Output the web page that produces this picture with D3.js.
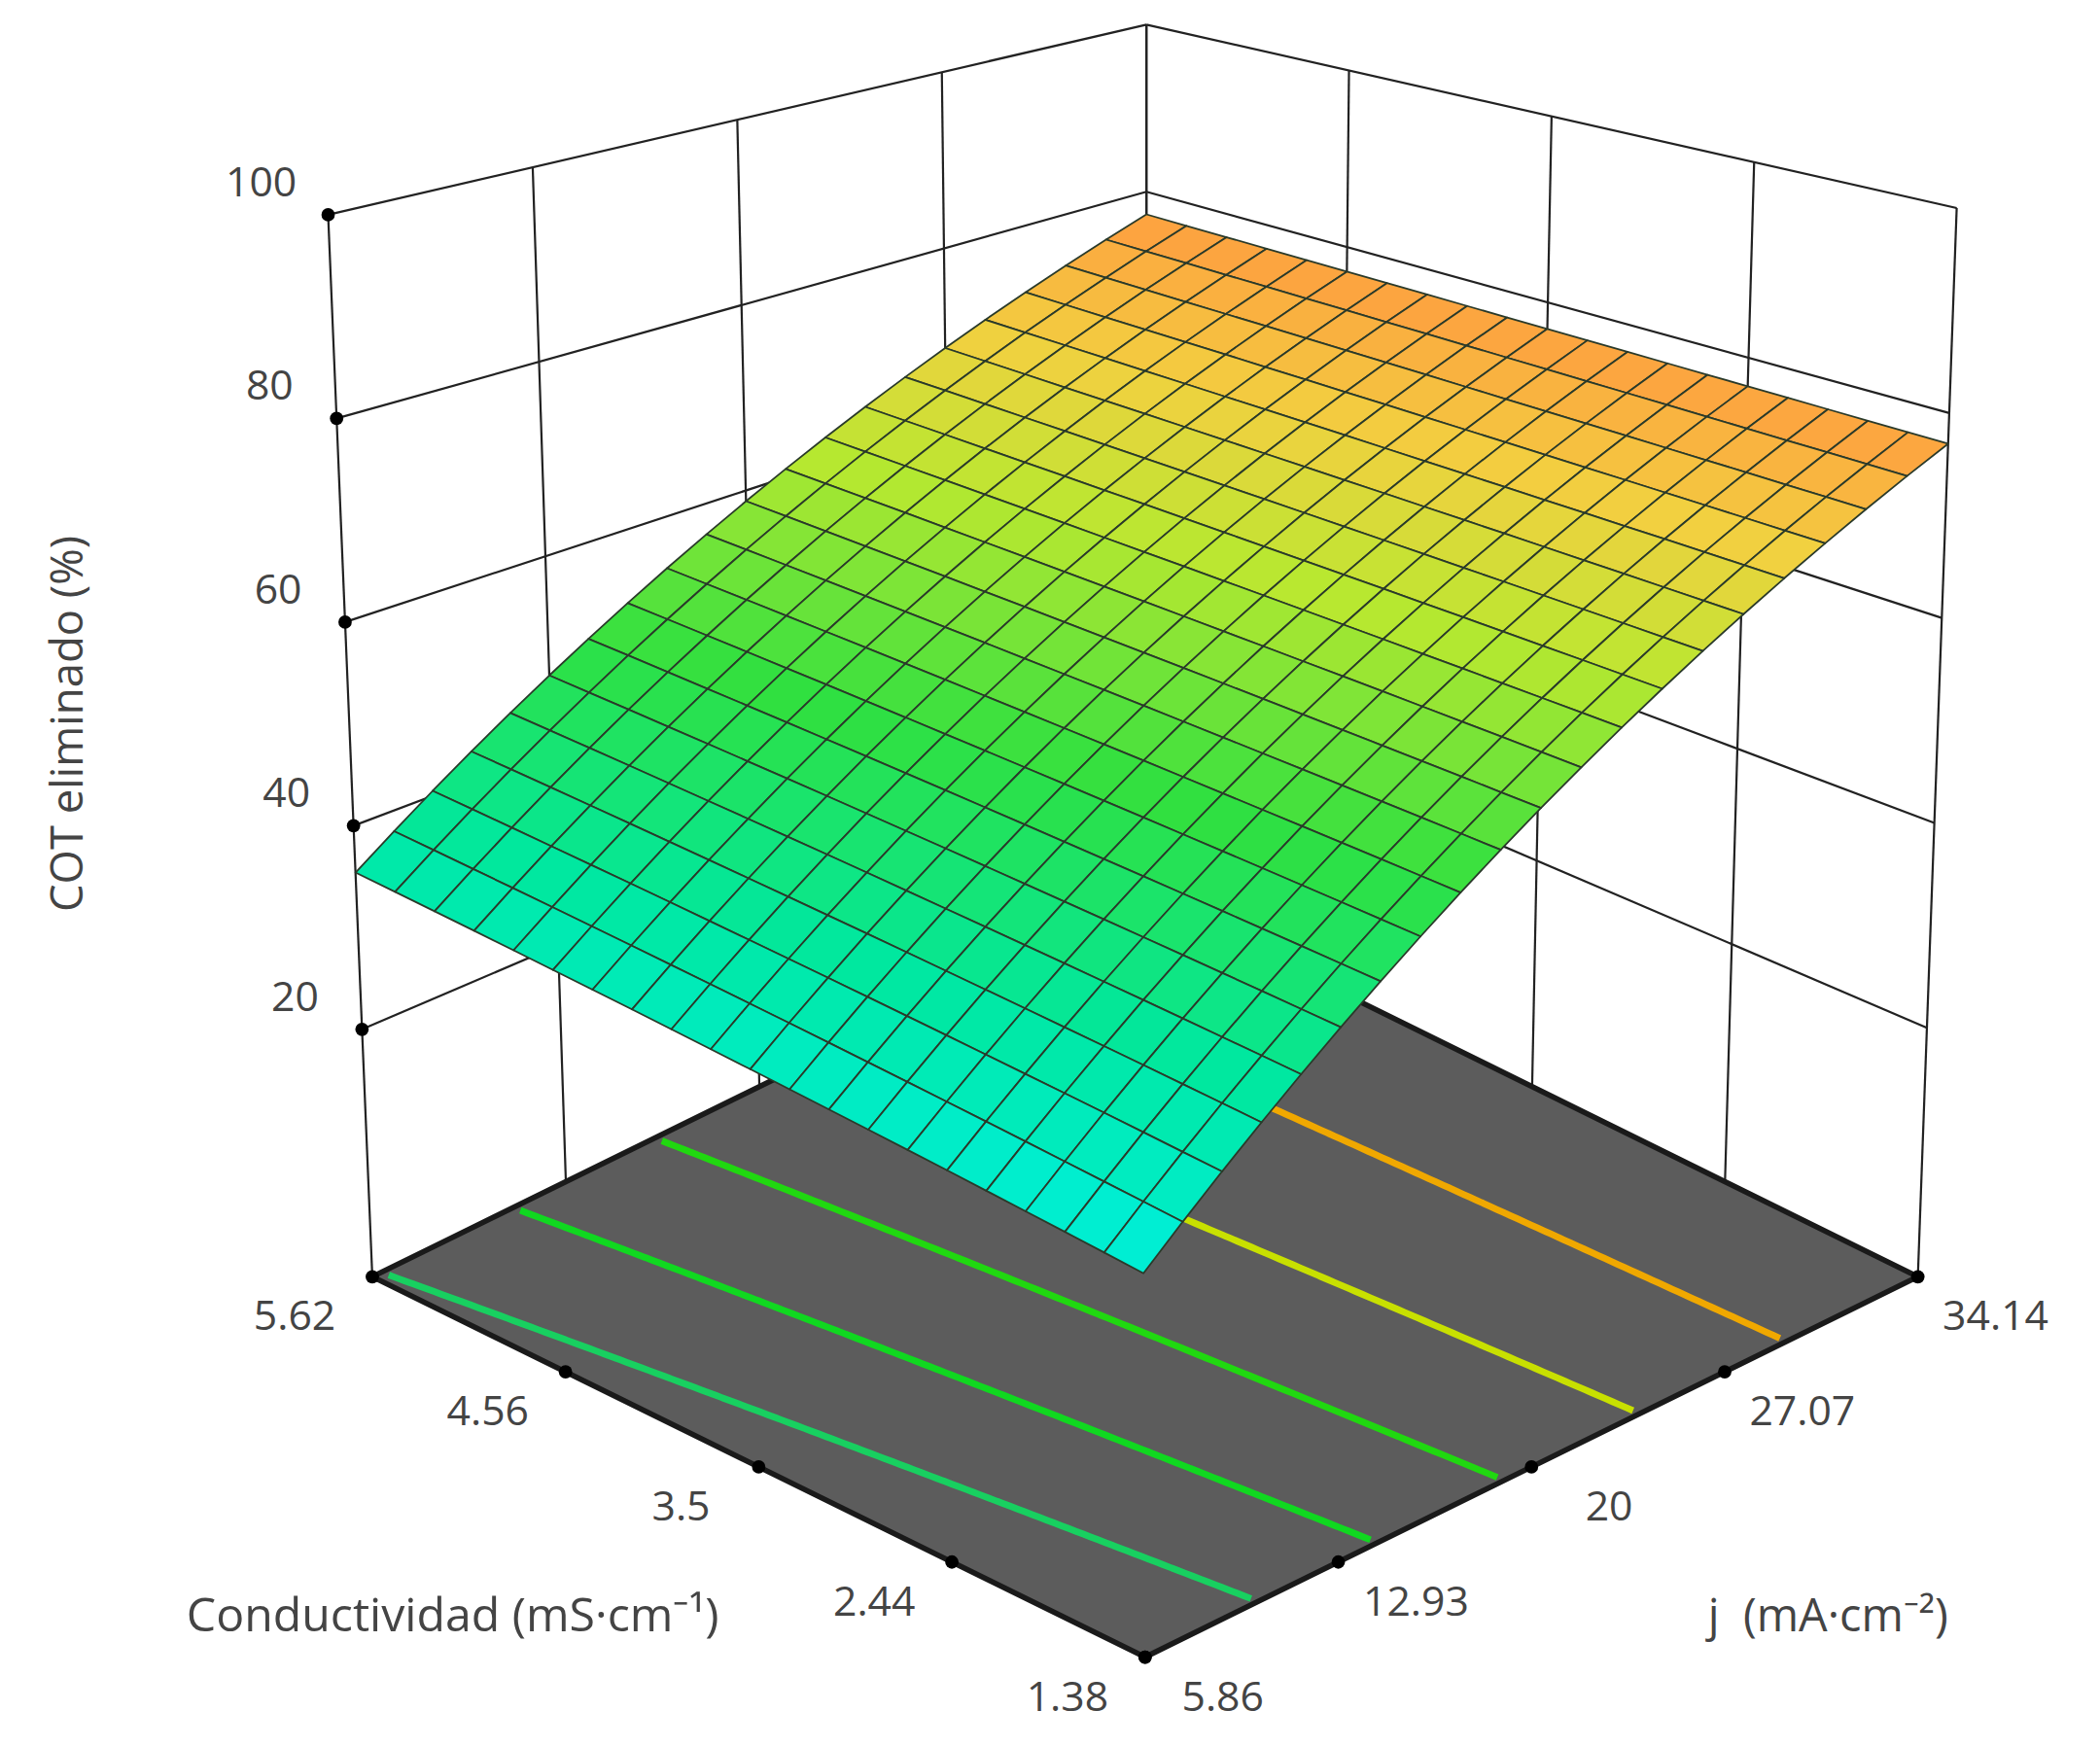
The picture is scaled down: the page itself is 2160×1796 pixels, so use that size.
<!DOCTYPE html>
<html><head><meta charset="utf-8">
<script src="https://cdn.jsdelivr.net/npm/d3@7"></script>
<style>body{margin:0;background:#fff}svg{display:block}</style>
</head><body><svg id="c" width="2160" height="1796" viewBox="0 0 1568 1303"></svg>
<script>
// ---- data ----
const condTicks = [1.38, 2.44, 3.5, 4.56, 5.62];
const condLabels = ["1.38", "2.44", "3.5", "4.56", "5.62"];
const jTicks = [5.86, 12.93, 20, 27.07, 34.14];
const jLabels = ["5.86", "12.93", "20", "27.07", "34.14"];
const zTicks = [20, 40, 60, 80, 100];
const zLabels = ["20", "40", "60", "80", "100"];
// fitted response-surface model in coded units: [b0, b1(cond), b2(j), b12, b11, b22]
const modelCoefficients = [56.8, 2.05, 22.85, -1.9, 0, -2.5];
const contourLevels = [36, 44.5, 53, 61.5, 70];
const contourColors = ["#18d060", "#10d820", "#20d810", "#c8e000", "#f0a800"];
const colorStops = [27, 38, 50, 62, 70, 78];
const colorRange = ["#00f0e0", "#00e8a0", "#30e040", "#b8e830", "#f2d040", "#ff9a40"];

const svg = d3.select("#c");
const zMin = -4.3, zMax = 100;
const uS = d3.scaleLinear().domain([1.38, 5.62]).range([0, 1]);
const vS = d3.scaleLinear().domain([5.86, 34.14]).range([0, 1]);
const tS = d3.scaleLinear().domain([zMin, zMax]).range([0, 1]);
const F = {a:[855,1237], b:[278,953], c:[1432,953], d:[856,669]};
const D = {a:[-4,-940], b:[-33,-793], c:[29,-798], d:[0,-651]};
function bil(o,u,v){return [0,1].map(i=>o.a[i]*(1-u)*(1-v)+o.b[i]*u*(1-v)+o.c[i]*(1-u)*v+o.d[i]*u*v);}
function P(u,v,z){const f=bil(F,u,v), d=bil(D,u,v), t=tS(z); return [f[0]+d[0]*t, f[1]+d[1]*t];}
function model(u,v){const x1=2*u-1,x2=2*v-1,b=modelCoefficients;
  return b[0]+b[1]*x1+b[2]*x2+b[3]*x1*x2+b[4]*x1*x1+b[5]*x2*x2;}
const line = d3.line();
const color = d3.scaleLinear().domain(colorStops).range(colorRange);

const g = svg.append("g").attr("stroke","#222").attr("stroke-width",1.6).attr("fill","none");
const ut = condTicks.map(uS), vt = jTicks.map(vS);
vt.forEach(v=>{ if(v>0) g.append("path").attr("d",line([P(1,v,zMin),P(1,v,zMax)]));});
zTicks.forEach(z=>g.append("path").attr("d",line([P(1,0,z),P(1,1,z)])));
ut.forEach(u=>{ if(u>0) g.append("path").attr("d",line([P(u,1,zMin),P(u,1,zMax)]));});
zTicks.forEach(z=>g.append("path").attr("d",line([P(0,1,z),P(1,1,z)])));
g.append("path").attr("d",line([P(1,0,zMin),P(1,0,zMax)]));
g.append("path").attr("d",line([P(0,1,zMin),P(0,1,zMax)]));

svg.append("path").attr("d",line([P(0,0,zMin),P(1,0,zMin),P(1,1,zMin),P(0,1,zMin)])+"Z")
  .attr("fill","#5c5c5c").attr("stroke","#1a1a1a").attr("stroke-width",4);

const NC = 120, vals = [];
for(let j=0;j<NC;j++)for(let i=0;i<NC;i++)vals.push(model(i/(NC-1), j/(NC-1)));
const cons = d3.contours().size([NC,NC]).thresholds(contourLevels)(vals);
cons.forEach((c,k)=>{
  c.coordinates.forEach(poly=>poly.forEach(ring=>{
    let seg=[], segs=[];
    ring.forEach(p=>{
      const x=p[0]-0.5, y=p[1]-0.5;
      const onB = x<=0.01||y<=0.01||x>=NC-1.01||y>=NC-1.01;
      if(onB){ if(seg.length>1) segs.push(seg); seg=[]; }
      else seg.push(P(Math.min(1,Math.max(0,x/(NC-1))), Math.min(1,Math.max(0,y/(NC-1))), zMin));
    });
    if(seg.length>1) segs.push(seg);
    segs.forEach(s=>svg.append("path").attr("d",line(s)).attr("fill","none")
      .attr("stroke",contourColors[k]).attr("stroke-width",5));
  }));
});

condTicks.forEach((c,i)=>{const p=P(uS(c),0,zMin);
  svg.append("circle").attr("cx",p[0]).attr("cy",p[1]).attr("r",5).attr("fill","#000");
  svg.append("text").attr("x",p[0]-58).attr("y",p[1]+40).text(condLabels[i]).attr("class","t");});
jTicks.forEach((j,i)=>{const p=P(0,vS(j),zMin);
  svg.append("circle").attr("cx",p[0]).attr("cy",p[1]).attr("r",5).attr("fill","#000");
  svg.append("text").attr("x",p[0]+58).attr("y",p[1]+40).text(jLabels[i]).attr("class","t");});
zTicks.forEach((z,i)=>{const p=P(1,0,z);
  svg.append("circle").attr("cx",p[0]).attr("cy",p[1]).attr("r",5).attr("fill","#000");
  svg.append("text").attr("x",p[0]-50).attr("y",p[1]-14).text(zLabels[i]).attr("class","t");});

const N=20, cells=[];
for(let i=0;i<N;i++)for(let j=0;j<N;j++){
  const u0=i/N,u1=(i+1)/N,v0=j/N,v1=(j+1)/N;
  const zc=model((u0+u1)/2,(v0+v1)/2);
  cells.push({d:u0+v0, z:zc, pts:[P(u0,v0,model(u0,v0)),P(u1,v0,model(u1,v0)),P(u1,v1,model(u1,v1)),P(u0,v1,model(u0,v1))]});
}
cells.sort((a,b)=>b.d-a.d);
svg.append("g").selectAll("path").data(cells).join("path")
  .attr("d",c=>line(c.pts)+"Z").attr("fill",c=>color(c.z))
  .attr("stroke","#2a3a2a").attr("stroke-width",1.3).attr("stroke-linejoin","round");

svg.selectAll(".t").attr("text-anchor","middle").attr("font-family","Open Sans, sans-serif")
  .attr("font-size",31).attr("fill","#444");
svg.append("text").attr("x",338).attr("y",1218).attr("text-anchor","middle")
  .attr("font-family","Open Sans, sans-serif").attr("font-size",35).attr("fill","#444")
  .text("Conductividad (mS·cm⁻¹)");
svg.append("text").attr("x",1365).attr("y",1218).attr("text-anchor","middle")
  .attr("font-family","Open Sans, sans-serif").attr("font-size",34).attr("fill","#444")
  .attr("xml:space","preserve").text("j  (mA·cm⁻²)");
svg.append("text").attr("transform","translate(62,540) rotate(-90)").attr("text-anchor","middle")
  .attr("font-family","Open Sans, sans-serif").attr("font-size",33).attr("fill","#444")
  .text("COT eliminado (%)");
</script></body></html>
